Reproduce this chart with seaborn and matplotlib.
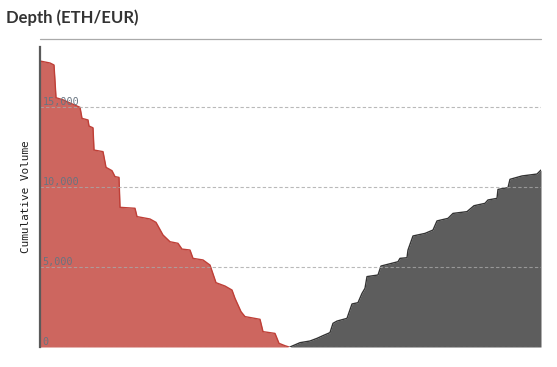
import matplotlib
matplotlib.use("Agg")
import matplotlib.pyplot as plt
from matplotlib.lines import Line2D
import seaborn as sns
import pandas as pd

# ---- data -------------------------------------------------------------
bid_price = [270.0, 271.0, 271.4, 271.6, 272.3, 273.0, 274.0, 274.2, 274.8, 274.9,
             275.3, 275.4, 276.3, 276.6, 277.2, 277.5, 277.9, 278.0, 279.5, 279.7,
             281.0, 281.6, 282.3, 283.0, 283.8, 284.2, 285.0, 285.3, 286.3, 287.0,
             287.6, 288.5, 289.2, 289.5, 290.1, 290.5, 292.0, 292.3, 293.5, 293.9,
             294.5, 294.9]
bid_volume = [17875, 17750, 17625, 15580, 15450, 15250, 14980, 14290, 14190, 13810,
              13700, 12310, 12210, 11230, 11020, 10650, 10600, 8730, 8670, 8150,
              8000, 7790, 7000, 6580, 6480, 6120, 6060, 5540, 5440, 5120,
              4020, 3810, 3560, 3040, 2210, 1900, 1730, 960, 850, 230,
              80, 0]

ask_price = [295.0, 296.0, 297.0, 297.7, 298.3, 299.0, 299.3, 299.7, 300.7, 301.2,
             301.8, 302.2, 302.5, 302.7, 303.8, 304.1, 305.8, 306.0, 306.7, 306.8,
             307.3, 308.5, 309.3, 309.7, 310.8, 311.3, 312.7, 313.4, 314.5, 314.8,
             315.7, 315.8, 316.8, 317.0, 318.2, 319.7, 320.1]
ask_volume = [0, 270, 375, 540, 710, 900, 1480, 1620, 1790, 2690,
              2770, 3350, 3670, 4400, 4500, 5060, 5330, 5540, 5580, 6060,
              6940, 7100, 7310, 7880, 8040, 8350, 8460, 8830, 8980, 9190,
              9290, 9850, 9960, 10480, 10690, 10810, 11060]

y_ticks = [0, 5000, 10000, 15000]
y_tick_labels = ["0", "5,000", "10,000", "15,000"]
title = "Depth (ETH/EUR)"
y_label = "Cumulative Volume"

bids = pd.DataFrame({"price": bid_price, "volume": bid_volume})
asks = pd.DataFrame({"price": ask_price, "volume": ask_volume})

# ---- figure -------------------------------------------------------------
sns.set_theme(style="white")
W, H = 557, 367
fig = plt.figure(figsize=(W / 100, H / 100), dpi=100)
ax = fig.add_axes([40 / W, 20 / H, 501 / W, 300 / H])

ax.fill_between(bids["price"], bids["volume"], 0, color="#cd665f", lw=0, zorder=2)
sns.lineplot(data=bids, x="price", y="volume", ax=ax, color="#bf3f37",
             lw=1.0, estimator=None, zorder=3)
ax.fill_between(asks["price"], asks["volume"], 0, color="#5d5d5d", lw=0, zorder=2)
sns.lineplot(data=asks, x="price", y="volume", ax=ax, color="#333333",
             lw=1.0, estimator=None, zorder=3)

ax.set_xlim(bid_price[0], ask_price[-1])
ax.set_ylim(0, 18750)
ax.set_xticks([])
ax.set_xlabel("")

ax.set_yticks(y_ticks)
ax.set_yticklabels(y_tick_labels, fontfamily="DejaVu Sans Mono", fontsize=7.3,
                   color="#687480", ha="left", va="bottom")
ax.tick_params(axis="y", length=0, pad=-2)
ax.yaxis.grid(True, color="#a8a8a8", lw=0.8, ls=(0, (3, 2)), alpha=0.8)
ax.yaxis.set_zorder(4)

for s in ["top", "right", "bottom"]:
    ax.spines[s].set_visible(False)
ax.spines["left"].set_color("#5a5a5a")
ax.spines["left"].set_linewidth(1.6)
ax.spines["left"].set_zorder(6)

ax.set_ylabel(y_label, fontfamily="DejaVu Sans Mono", fontsize=7.9, color="#1e1e1e")
ax.yaxis.set_label_coords(-0.018, 0.5)

# header separator line
fig.add_artist(Line2D([40 / W, 541 / W], [1 - 39 / H, 1 - 39 / H],
                      color="#aaaaaa", lw=0.9))
fig.text(6 / W, 1 - 18 / H, title, fontfamily="Lato", fontweight="bold",
         fontsize=12, color="#333333", ha="left", va="center")

fig.savefig("out.png", dpi=100)
